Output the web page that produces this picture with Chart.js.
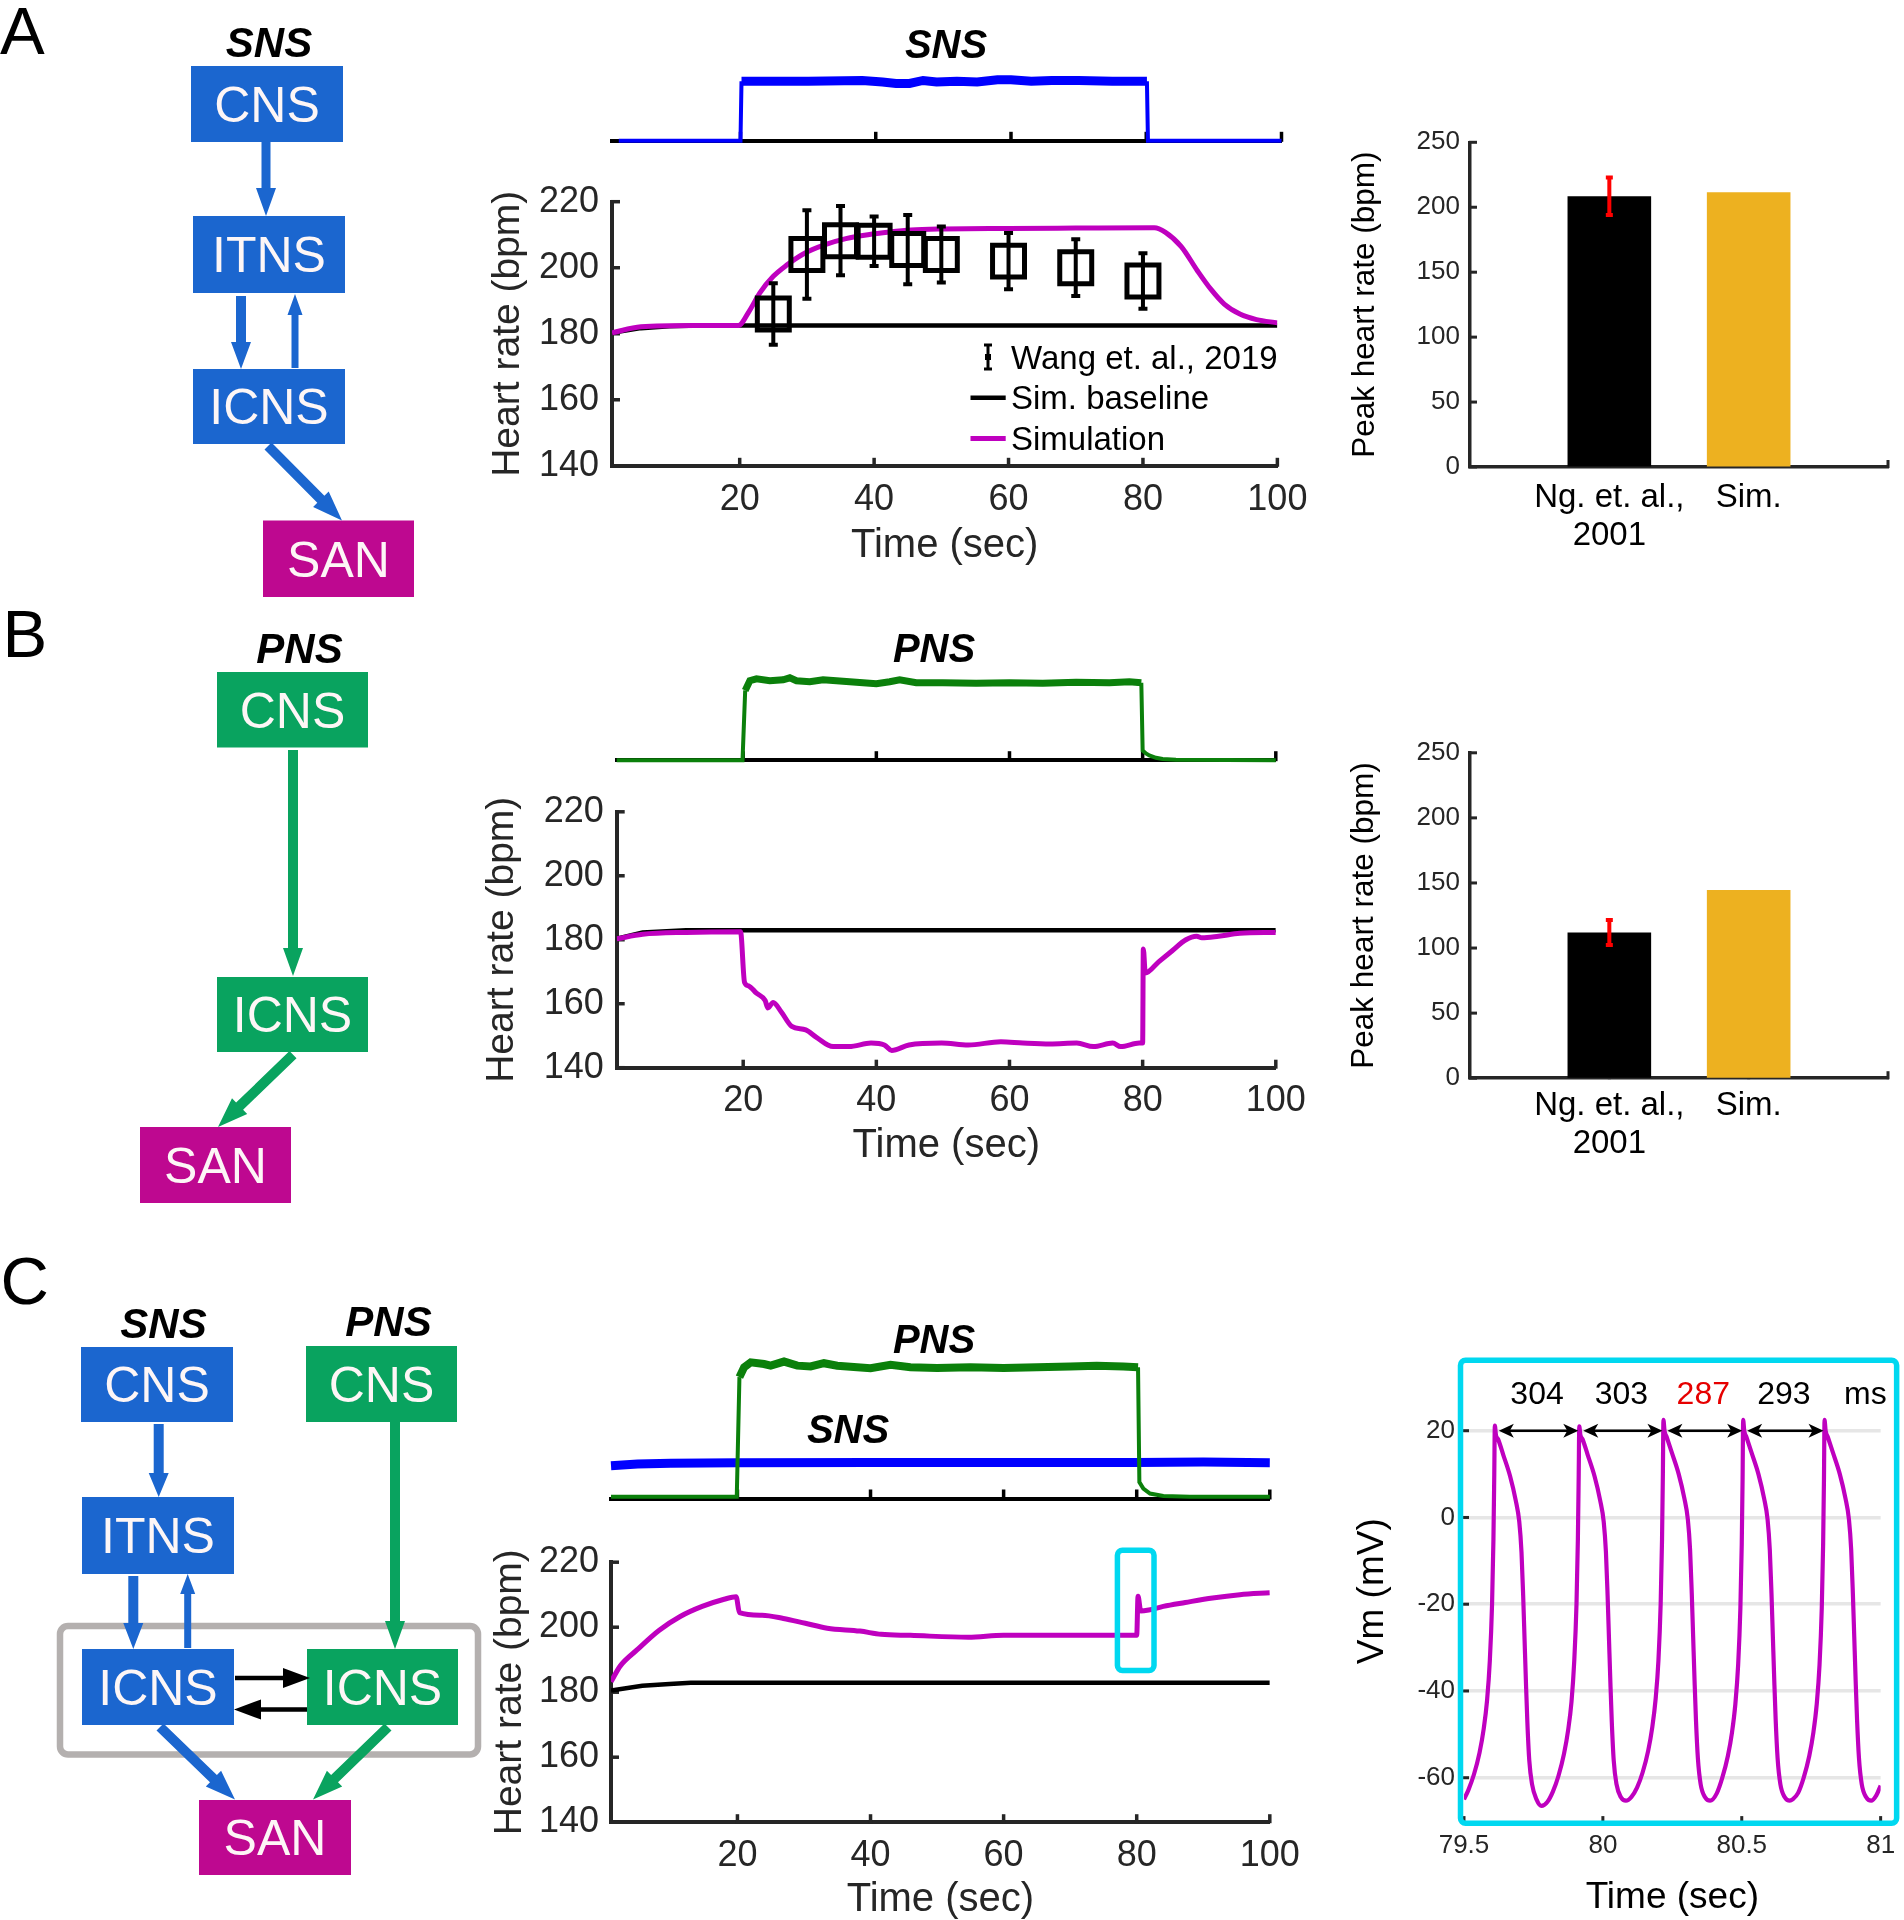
<!DOCTYPE html>
<html><head><meta charset="utf-8">
<script src="https://cdn.jsdelivr.net/npm/chart.js@4.4.1/dist/chart.umd.min.js"></script>
<style>
html,body{margin:0;padding:0;background:#fff;}
#page{position:relative;width:1904px;height:1920px;overflow:hidden;background:#fff;}
canvas{position:absolute;}
#ov{position:absolute;left:0;top:0;z-index:5;pointer-events:none;}
</style></head>
<body><div id="page">
<canvas id="aTop"></canvas><canvas id="aHr"></canvas><canvas id="aBar"></canvas>
<canvas id="bTop"></canvas><canvas id="bHr"></canvas><canvas id="bBar"></canvas>
<canvas id="cTop"></canvas><canvas id="cHr"></canvas><canvas id="cVm"></canvas>
<svg id="ov" width="1904" height="1920" xmlns="http://www.w3.org/2000/svg"></svg>
</div>
<script>
// ================= DATA =================
const hrXTicks = [20, 40, 60, 80, 100];
const hrYTicks = [140, 160, 180, 200, 220];
const barPos = [1, 2];
const barXTicks = [1, 2, 3];
const barLabels = [['Ng. et. al.,', '2001'], 'Sim.', ''];
const barYTicks = [0, 50, 100, 150, 200, 250];
const vmXTicks = [79.5, 80, 80.5, 81];
const vmYTicks = [-60, -40, -20, 0, 20];

// Panel A
const aSnsX = [2, 20, 20.15, 30, 38, 41, 43, 45, 47, 49, 52, 55, 58, 60, 63, 66, 70, 75, 80.1, 80.25, 100];
const aSnsY = [0, 0, 0.80, 0.80, 0.81, 0.79, 0.77, 0.77, 0.81, 0.79, 0.80, 0.79, 0.82, 0.82, 0.80, 0.81, 0.81, 0.80, 0.80, 0, 0];
const aSimX = [1, 5.3, 13.3, 19.8, 21.4, 23.0, 25.0, 27.0, 29.4, 32.6, 35.8, 39.1, 42.3, 45.5, 49.5, 60, 70, 81.7, 83.3, 85.7, 88.1, 90.1, 92.1, 94.5, 96.9, 100];
const aSimY = [180.3, 182.1, 182.5, 182.5, 186.8, 192.4, 197.4, 200.8, 204.1, 206.9, 208.8, 210.0, 210.8, 211.4, 211.7, 211.9, 212.0, 212.1, 210.8, 206.4, 199.1, 193.5, 189.0, 185.9, 184.3, 183.3];
const aBaseX = [1, 5.3, 9.5, 14, 100];
const aBaseY = [180.3, 181.7, 182.3, 182.5, 182.5];
const wangX = [25, 30, 35, 40, 45, 50, 60, 70, 80];
const wangY = [186.0, 204.0, 208.2, 208.0, 205.5, 204.0, 202.0, 200.0, 196.0];
const wangErr = [9.3, 13.4, 10.5, 7.5, 10.5, 8.5, 8.5, 8.6, 8.4];
const aBarVals = [208.5, 211.6];
const aBarErr = [14.4, 0];

// Panel B
const bPnsX = [1, 19.9, 20.3, 21, 22, 24, 26, 27, 28, 30, 32, 34, 36, 38, 40, 42, 43.5, 46, 50, 55, 60, 65, 70, 75, 78, 79.8, 80.0, 80.5, 81, 82, 83, 85, 100];
const bPnsY = [0, 0, 0.72, 0.82, 0.84, 0.82, 0.83, 0.85, 0.82, 0.81, 0.83, 0.82, 0.81, 0.80, 0.79, 0.81, 0.83, 0.80, 0.80, 0.795, 0.80, 0.795, 0.805, 0.80, 0.81, 0.80, 0.10, 0.07, 0.05, 0.025, 0.012, 0.005, 0];
const bSimX = [1, 4.9, 11.4, 19.6, 20.2, 20.8, 22.0, 23.3, 23.7, 24.5, 25.7, 27.3, 29.4, 31.0, 33.5, 35.9, 39.2, 41.2, 42.3, 44.9, 49.8, 53.8, 58.7, 62.0, 66.1, 70.1, 72.6, 75.5, 76.7, 79.5, 80.0, 80.1, 80.4, 82.4, 84.4, 86.5, 88.1, 88.9, 91.4, 94.6, 100];
const bSimY = [180.3, 181.7, 182.3, 182.5, 166.7, 165.6, 163.3, 161.0, 158.7, 160.4, 157.5, 152.9, 151.8, 149.5, 146.6, 146.6, 147.7, 147.1, 145.4, 147.1, 147.7, 147.1, 148.1, 147.7, 147.4, 147.7, 146.6, 147.7, 146.6, 147.7, 147.7, 177.1, 169.6, 173.1, 176.5, 180.0, 181.1, 180.6, 181.1, 182.0, 182.3];
const bBaseX = [1, 4.9, 11.4, 100];
const bBaseY = [180.3, 182.3, 183.0, 183.0];
const bBarVals = [112.0, 144.6];
const bBarErr = [9.6, 0];

// Panel C
const cPnsX = [1, 19.9, 20.3, 21, 22, 24, 25, 27, 29, 31, 33, 35, 38, 40, 43, 46, 50, 55, 60, 65, 70, 74, 78, 80.2, 80.4, 81, 82, 84, 88, 100];
const cPnsY = [0.01, 0.01, 0.74, 0.80, 0.83, 0.82, 0.81, 0.835, 0.81, 0.805, 0.825, 0.81, 0.80, 0.795, 0.815, 0.80, 0.795, 0.80, 0.795, 0.80, 0.805, 0.81, 0.805, 0.80, 0.10, 0.06, 0.03, 0.015, 0.01, 0.01];
const cSnsX = [1, 5, 10, 20, 40, 60, 80, 90, 100];
const cSnsY = [0.20, 0.21, 0.215, 0.218, 0.22, 0.22, 0.22, 0.222, 0.218];
const cSimX = [1, 2.4, 4.9, 8.2, 11.4, 14.7, 18, 19.8, 20.3, 23.7, 26.9, 30.2, 33.5, 38.4, 41.6, 46, 54.7, 60, 70, 80.0, 80.2, 80.6, 81.8, 84, 87.3, 91.4, 95.5, 100];
const cSimY = [183.2, 188.1, 193.0, 199.0, 203.3, 206.4, 208.6, 209.4, 204.5, 203.7, 202.7, 201.2, 199.7, 198.8, 197.8, 197.5, 196.9, 197.5, 197.5, 197.5, 209.5, 205.0, 205.3, 206.4, 207.6, 209.0, 210.0, 210.6];
const cBaseX = [1, 5.7, 9.8, 13, 100];
const cBaseY = [180.5, 182.0, 182.5, 182.9, 182.9];
const cBoxX = [77.1, 82.6];
const cBoxY = [186.7, 223.7];

// Membrane potential (Vm) zoom
const vmT = [
79.500, 79.516, 79.536, 79.556, 79.571, 79.583, 79.593, 79.601, 79.606, 79.609, 79.611,
79.615, 79.623, 79.641, 79.666, 79.686, 79.699, 79.707, 79.713, 79.718, 79.723, 79.728, 79.735, 79.745, 79.761, 79.779,
79.800, 79.820, 79.840, 79.860, 79.875, 79.887, 79.897, 79.905, 79.910, 79.913, 79.915,
79.919, 79.927, 79.945, 79.970, 79.990, 80.003, 80.011, 80.017, 80.022, 80.027, 80.032, 80.039, 80.049, 80.065, 80.083,
80.103, 80.123, 80.143, 80.163, 80.178, 80.190, 80.200, 80.208, 80.213, 80.216, 80.218,
80.222, 80.230, 80.248, 80.273, 80.293, 80.306, 80.314, 80.320, 80.325, 80.330, 80.335, 80.342, 80.352, 80.368, 80.386,
80.410, 80.430, 80.450, 80.465, 80.477, 80.487, 80.495, 80.500, 80.503, 80.505,
80.509, 80.517, 80.535, 80.560, 80.580, 80.593, 80.601, 80.607, 80.612, 80.617, 80.622, 80.629, 80.639, 80.655, 80.673,
80.683, 80.703, 80.723, 80.743, 80.758, 80.770, 80.780, 80.788, 80.793, 80.796, 80.798,
80.802, 80.810, 80.828, 80.853, 80.873, 80.886, 80.894, 80.900, 80.905, 80.910, 80.915, 80.922, 80.932, 80.948, 80.966, 80.985, 81.000];
const vmV = [
-65.0, -62.8, -59.2, -54.2, -48.7, -42.2, -33.0, -20.0, -5.0, 10.0, 21.2,
19.0, 18.0, 14.5, 9.5, 4.0, -1.0, -8.0, -18.0, -28.0, -38.0, -47.0, -56.0, -61.5, -65.0, -66.5,
-65.6, -63.2, -59.6, -54.5, -49.0, -42.5, -33.0, -20.0, -5.0, 10.0, 21.0,
19.0, 18.0, 14.5, 9.5, 4.0, -1.0, -8.0, -18.0, -28.0, -38.0, -47.0, -56.0, -61.5, -64.5, -65.3,
-64.4, -62.3, -58.8, -53.8, -48.3, -41.8, -33.0, -20.0, -5.0, 10.0, 22.5,
20.0, 18.5, 15.0, 10.0, 4.5, -0.5, -7.5, -17.5, -27.5, -37.5, -46.5, -55.5, -61.5, -64.5, -65.3,
-63.6, -60.0, -55.0, -49.5, -43.0, -34.0, -21.0, -6.0, 9.0, 22.5,
20.0, 18.5, 15.0, 10.0, 4.5, -0.5, -7.5, -17.5, -27.5, -37.5, -46.5, -55.5, -61.5, -64.5, -65.3,
-65.0, -63.5, -60.0, -55.0, -49.5, -43.0, -34.0, -21.0, -6.0, 9.0, 22.5,
20.0, 18.5, 15.0, 10.0, 4.5, -0.5, -7.5, -17.5, -27.5, -37.5, -46.5, -55.5, -61.5, -64.5, -65.3, -64.0, -61.8];
const vmPeaks = [79.611, 79.915, 80.218, 80.505, 80.798];
const vmIntervalLabels = ['304', '303', '287', '293'];
const vmIntervalColors = ['#000000', '#000000', '#e60000', '#000000'];

// ================= STYLE / LAYOUT =================
const FONT = "'Liberation Sans', Arial, Helvetica, sans-serif";
const AX = '#262626', MAG = '#bf00bf', BLUE = '#0000ff', GREEN = '#0b800b', CYAN = '#00d8f0';
Chart.defaults.font.family = FONT;
Chart.defaults.color = AX;
Chart.defaults.animation = false;
Chart.defaults.events = [];
Chart.defaults.plugins.legend.display = false;
Chart.defaults.plugins.tooltip.enabled = false;
Chart.defaults.elements.point.radius = 0;
Chart.defaults.elements.point.hoverRadius = 0;

const G = {
  aTop: { cl: 470, ct: 0, cw: 850, ch: 160, L: 612, R: 1281.5, T: 66.3, B: 140.8 },
  aHr:  { cl: 470, ct: 160, cw: 850, ch: 420, L: 612, R: 1281.5, T: 201.7, B: 465.8 },
  aBar: { cl: 1330, ct: 100, cw: 574, ch: 480, L: 1470, R: 1888, T: 142.3, B: 467 },
  bTop: { cl: 470, ct: 590, cw: 850, ch: 180, L: 616.7, R: 1275.8, T: 663.3, B: 760.2 },
  bHr:  { cl: 470, ct: 770, cw: 850, ch: 410, L: 616.7, R: 1275.8, T: 811.8, B: 1067.7 },
  bBar: { cl: 1330, ct: 700, cw: 574, ch: 480, L: 1470, R: 1888, T: 752.8, B: 1078.2 },
  cTop: { cl: 470, ct: 1300, cw: 850, ch: 210, L: 611, R: 1269.8, T: 1334.5, B: 1498.5 },
  cHr:  { cl: 470, ct: 1510, cw: 850, ch: 410, L: 611, R: 1269.8, T: 1562.2, B: 1822.2 },
  cVm:  { cl: 1330, ct: 1300, cw: 574, ch: 620, L: 1464, R: 1886, T: 1361.3, B: 1821.1 }
};

const pts = (xs, ys) => xs.map((x, i) => ({ x: x, y: ys[i] }));

function mount(id, g) {
  const c = document.getElementById(id);
  c.style.left = g.cl + 'px'; c.style.top = g.ct + 'px';
  c.width = g.cw; c.height = g.ch;
  c.style.width = g.cw + 'px'; c.style.height = g.ch + 'px';
  return c;
}
function pad(g, yVisible) {
  return { left: yVisible ? 0 : g.L - g.cl, top: g.T - g.ct, right: g.cl + g.cw - g.R, bottom: 0 };
}
function axis(o) {
  const isX = o.isX;
  return {
    type: 'linear', min: o.min, max: o.max, bounds: 'data', offset: false,
    afterBuildTicks: s => { s.ticks = o.ticks.map(v => ({ value: v })); },
    afterFit: s => { if (isX) s.height = o.size; else s.width = o.size; },
    grid: { display: true, drawOnChartArea: !!o.grid, drawTicks: false, color: o.grid || 'rgba(0,0,0,0)', lineWidth: o.gridWidth || 1 },
    border: { display: !!o.border, color: o.border || AX, width: o.borderWidth || 4 },
    ticks: { display: o.tickFont !== undefined, font: { size: o.tickFont || 12, lineHeight: o.tickLH || 1.2 }, padding: o.tickPad || 0,
             color: o.tickColor || AX, maxRotation: 0, minRotation: 0, autoSkip: false, callback: o.labelCb || (v => String(v)) },
    title: o.title ? { display: true, text: o.title, color: o.titleColor || AX, font: { size: o.titleFont, lineHeight: 1 },
             padding: isX ? { top: 0, bottom: o.titlePad } : { top: o.titlePad, bottom: 0 } } : { display: false }
  };
}

// ----- plugins -----
function makeTicks(o) {
  return { id: 'inTicks', beforeDatasetsDraw(chart) {
    const ctx = chart.ctx, a = chart.chartArea;
    ctx.save(); ctx.strokeStyle = o.color; ctx.lineWidth = o.width;
    if (o.x) { const s = chart.scales.x; s.ticks.forEach(t => { const p = s.getPixelForValue(t.value);
      ctx.beginPath(); ctx.moveTo(p, a.bottom + 1); ctx.lineTo(p, a.bottom - o.len); ctx.stroke(); }); }
    if (o.y) { const s = chart.scales.y; s.ticks.forEach(t => { const p = s.getPixelForValue(t.value);
      ctx.beginPath(); ctx.moveTo(a.left - 1, p); ctx.lineTo(a.left + o.len, p); ctx.stroke(); }); }
    ctx.restore();
  } };
}
const errBars = { id: 'errBars', afterDatasetsDraw(chart) {
  const ctx = chart.ctx, xs = chart.scales.x, ys = chart.scales.y;
  chart.data.datasets.forEach(ds => {
    if (!ds.errors) return;
    ctx.save(); ctx.strokeStyle = ds.errColor; ctx.lineWidth = ds.errWidth;
    ds.data.forEach((pt, i) => {
      const e = ds.errors[i]; if (!e) return;
      const px = xs.getPixelForValue(pt.x), lo = ys.getPixelForValue(pt.y - e), hi = ys.getPixelForValue(pt.y + e), c = ds.errCap / 2;
      ctx.beginPath(); ctx.moveTo(px, lo); ctx.lineTo(px, hi);
      ctx.moveTo(px - c, lo); ctx.lineTo(px + c, lo); ctx.moveTo(px - c, hi); ctx.lineTo(px + c, hi); ctx.stroke();
    });
    ctx.restore();
  });
} };
function makeBox(bx, by, color, width, radius) {
  return { id: 'dataBox', afterDatasetsDraw(chart) {
    const xs = chart.scales.x, ys = chart.scales.y, ctx = chart.ctx;
    const x1 = xs.getPixelForValue(bx[0]), x2 = xs.getPixelForValue(bx[1]);
    const y1 = ys.getPixelForValue(by[1]), y2 = ys.getPixelForValue(by[0]);
    ctx.save(); ctx.strokeStyle = color; ctx.lineWidth = width;
    ctx.beginPath(); ctx.roundRect(x1, y1, x2 - x1, y2 - y1, radius); ctx.stroke(); ctx.restore();
  } };
}
function makeFrame(color, width, dl, dt, dr, db) {
  return { id: 'frame', afterDraw(chart) {
    const a = chart.chartArea, ctx = chart.ctx;
    ctx.save(); ctx.strokeStyle = color; ctx.lineWidth = width;
    const x1 = a.left + dl, y1 = a.top + dt, x2 = a.right + dr, y2 = a.bottom + db;
    ctx.beginPath(); ctx.roundRect(x1, y1, x2 - x1, y2 - y1, 5); ctx.stroke(); ctx.restore();
  } };
}
function makeIntervals(peaks, labels, colors, level, labelLevel, unitText, unitX) {
  return { id: 'intervals', afterDatasetsDraw(chart) {
    const ctx = chart.ctx, xs = chart.scales.x, ys = chart.scales.y;
    const py = ys.getPixelForValue(level), ly = ys.getPixelForValue(labelLevel);
    ctx.save(); ctx.lineWidth = 2.5;
    ctx.font = '32px ' + FONT; ctx.textAlign = 'center'; ctx.textBaseline = 'middle';
    for (let i = 0; i < labels.length; i++) {
      const x1 = xs.getPixelForValue(peaks[i]) + 4, x2 = xs.getPixelForValue(peaks[i + 1]) - 1;
      ctx.strokeStyle = '#000'; ctx.fillStyle = '#000';
      ctx.beginPath(); ctx.moveTo(x1 + 8, py); ctx.lineTo(x2 - 8, py); ctx.stroke();
      ctx.beginPath(); ctx.moveTo(x1, py); ctx.lineTo(x1 + 15, py - 7); ctx.lineTo(x1 + 11, py); ctx.lineTo(x1 + 15, py + 7); ctx.closePath(); ctx.fill();
      ctx.beginPath(); ctx.moveTo(x2, py); ctx.lineTo(x2 - 15, py - 7); ctx.lineTo(x2 - 11, py); ctx.lineTo(x2 - 15, py + 7); ctx.closePath(); ctx.fill();
      ctx.fillStyle = colors[i];
      ctx.fillText(labels[i], xs.getPixelForValue((peaks[i] + peaks[i + 1]) / 2), ly);
    }
    ctx.fillStyle = '#000';
    ctx.fillText(unitText, xs.getPixelForValue(unitX), ly);
    ctx.restore();
  } };
}

function traceDs(xs, ys, color, thin, thick) {
  return { data: pts(xs, ys), borderColor: color, borderWidth: thin, pointRadius: 0, clip: false,
    segment: { borderWidth: c => (c.p0.parsed.y > 0.5 && c.p1.parsed.y > 0.5) ? thick : thin } };
}
function traceChart(id, g, datasets) {
  return new Chart(mount(id, g), {
    type: 'line', data: { datasets },
    options: { responsive: false, layout: { padding: pad(g, false) },
      scales: {
        x: axis({ isX: true, min: 1, max: 100, ticks: hrXTicks, size: g.ct + g.ch - g.B, border: '#000', borderWidth: 4 }),
        y: { display: false, min: 0, max: 1 }
      } },
    plugins: [makeTicks({ x: true, len: 9, color: '#000', width: 3.5 })]
  });
}
function hrChart(id, g, datasets, t, extra) {
  return new Chart(mount(id, g), {
    type: 'line', data: { datasets },
    options: { responsive: false, layout: { padding: pad(g, true) },
      scales: {
        x: axis({ isX: true, min: 1, max: 100, ticks: hrXTicks, size: g.ct + g.ch - g.B, border: AX, borderWidth: 4,
                  tickFont: 36, tickPad: t.xTickPad, title: 'Time (sec)', titleFont: 40, titlePad: t.xTitlePad }),
        y: axis({ isX: false, min: 140, max: 220, ticks: hrYTicks, size: g.L - g.cl, border: AX, borderWidth: 4,
                  tickFont: 36, tickPad: t.yTickPad, title: 'Heart rate (bpm)', titleFont: 39, titlePad: t.yTitlePad })
      } },
    plugins: [makeTicks({ x: true, y: true, len: 8, color: AX, width: 3.5 }), errBars].concat(extra || [])
  });
}
function barTickText(v) { const i = barXTicks.indexOf(v); return i >= 0 ? barLabels[i] : ''; }
function barChart(id, g, vals, errs, t) {
  return new Chart(mount(id, g), {
    type: 'bar',
    data: { datasets: [{ data: pts(barPos, vals), backgroundColor: ['#000000', '#EDB120'], borderWidth: 0,
      barPercentage: 0.6, categoryPercentage: 1, errors: errs, errColor: '#ff0000', errWidth: 4, errCap: 7 }] },
    options: { responsive: false, layout: { padding: pad(g, true) },
      scales: {
        x: axis({ isX: true, min: 0, max: 3, ticks: barXTicks, size: g.ct + g.ch - g.B, border: AX, borderWidth: 3.5,
                  tickFont: 33, tickLH: 1.15, tickColor: '#000', tickPad: t.xTickPad, labelCb: barTickText }),
        y: axis({ isX: false, min: 0, max: 250, ticks: barYTicks, size: g.L - g.cl, border: AX, borderWidth: 3.5,
                  tickFont: 26, tickPad: 10, title: 'Peak heart rate (bpm)', titleFont: 31.5, titlePad: t.yTitlePad, titleColor: '#000' })
      } },
    plugins: [makeTicks({ x: true, y: true, len: 7, color: AX, width: 3 }), errBars]
  });
}

// ================= CHARTS =================
// Panel A
traceChart('aTop', G.aTop, [traceDs(aSnsX, aSnsY, BLUE, 4, 9)]);
hrChart('aHr', G.aHr, [
  { data: pts(wangX, wangY), showLine: false, pointStyle: 'rect', pointRadius: 22.6, pointHoverRadius: 22.6, pointBorderWidth: 5,
    pointBorderColor: '#000', pointBackgroundColor: 'rgba(0,0,0,0)', errors: wangErr, errColor: '#000', errWidth: 4, errCap: 9 },
  { data: pts(aSimX, aSimY), borderColor: MAG, borderWidth: 5, cubicInterpolationMode: 'monotone' },
  { data: pts(aBaseX, aBaseY), borderColor: '#000', borderWidth: 4.5 }
], { xTickPad: 12.6, yTickPad: 13, yTitlePad: 18.5, xTitlePad: 14.5 });
barChart('aBar', G.aBar, aBarVals, aBarErr, { xTickPad: 12, yTitlePad: 19.25 });

// Panel B
traceChart('bTop', G.bTop, [traceDs(bPnsX, bPnsY, GREEN, 4, 7)]);
hrChart('bHr', G.bHr, [
  { data: pts(bSimX, bSimY), borderColor: MAG, borderWidth: 5, cubicInterpolationMode: 'monotone' },
  { data: pts(bBaseX, bBaseY), borderColor: '#000', borderWidth: 4.5 }
], { xTickPad: 11.7, yTickPad: 13, yTitlePad: 12.5, xTitlePad: 14 });
barChart('bBar', G.bBar, bBarVals, bBarErr, { xTickPad: 9, yTitlePad: 19 });

// Panel C
traceChart('cTop', G.cTop, [traceDs(cPnsX, cPnsY, GREEN, 4, 8), traceDs(cSnsX, cSnsY, BLUE, 9, 9)]);
hrChart('cHr', G.cHr, [
  { data: pts(cSimX, cSimY), borderColor: MAG, borderWidth: 5, cubicInterpolationMode: 'monotone' },
  { data: pts(cBaseX, cBaseY), borderColor: '#000', borderWidth: 4.5 }
], { xTickPad: 12.2, yTickPad: 12, yTitlePad: 20.5, xTitlePad: 0 }, [makeBox(cBoxX, cBoxY, CYAN, 5.5, 5)]);

(function () {
  const g = G.cVm;
  new Chart(mount('cVm', g), {
    type: 'line',
    data: { datasets: [{ data: pts(vmT, vmV), borderColor: MAG, borderWidth: 4.2, cubicInterpolationMode: 'monotone' }] },
    options: { responsive: false, layout: { padding: pad(g, true) },
      scales: {
        x: axis({ isX: true, min: 79.5, max: 81, ticks: vmXTicks, size: g.ct + g.ch - g.B, tickFont: 26, tickPad: 8.9,
                  title: 'Time (sec)', titleFont: 37, titlePad: 3.7, titleColor: '#000' }),
        y: axis({ isX: false, min: -70, max: 36, ticks: vmYTicks, size: g.L - g.cl, tickFont: 26, tickPad: 9,
                  grid: '#e6e6e6', gridWidth: 3.5, title: 'Vm (mV)', titleFont: 37, titlePad: 23.9, titleColor: '#000' })
      } },
    plugins: [makeTicks({ x: true, y: true, len: 5, color: AX, width: 3 }),
              makeIntervals(vmPeaks, vmIntervalLabels, vmIntervalColors, 20, 28.1, 'ms', 80.945),
              makeFrame(CYAN, 5.5, -3.5, -1, 16, 2.2)]
  });
})();

// ================= DIAGRAMS / TEXT OVERLAY =================
const BOXB = '#1b66cf', BOXG = '#09a35f', BOXM = '#be0890';
const parts = [];
const SF = "'Liberation Sans', Arial, Helvetica, sans-serif";
function sText(x, y, str, size, o) {
  o = o || {};
  parts.push('<text x="' + x + '" y="' + y + '" font-family="' + SF + '" font-size="' + size + '"' +
    (o.bold ? ' font-weight="bold"' : '') + (o.italic ? ' font-style="italic"' : '') +
    ' text-anchor="' + (o.anchor || 'start') + '" fill="' + (o.fill || '#000') + '">' + str + '</text>');
}
function sBox(x1, y1, x2, y2, fill, label) {
  parts.push('<rect x="' + x1 + '" y="' + y1 + '" width="' + (x2 - x1) + '" height="' + (y2 - y1) + '" fill="' + fill + '"/>');
  sText((x1 + x2) / 2, ((y1 + y2) / 2 + 17.9).toFixed(1), label, 50, { anchor: 'middle', fill: '#fdf6f6' });
}
function sArrow(x1, y1, x2, y2, color, sw, hw, hl) {
  const dx = x2 - x1, dy = y2 - y1, L = Math.hypot(dx, dy), ux = dx / L, uy = dy / L, nx = -uy, ny = ux;
  const bx = x2 - ux * hl, by = y2 - uy * hl;
  const p = [[x1 + nx * sw / 2, y1 + ny * sw / 2], [bx + nx * sw / 2, by + ny * sw / 2], [bx + nx * hw / 2, by + ny * hw / 2], [x2, y2],
             [bx - nx * hw / 2, by - ny * hw / 2], [bx - nx * sw / 2, by - ny * sw / 2], [x1 - nx * sw / 2, y1 - ny * sw / 2]];
  parts.push('<polygon fill="' + color + '" points="' + p.map(q => q[0].toFixed(1) + ',' + q[1].toFixed(1)).join(' ') + '"/>');
}

// panel letters
sText(0, 53.6, 'A', 67);
sText(2.5, 657, 'B', 67);
sText(0.5, 1304, 'C', 67);

// Panel A diagram
sText(269, 57.4, 'SNS', 42, { bold: true, italic: true, anchor: 'middle' });
sBox(191, 66, 343, 142, BOXB, 'CNS');
sBox(193, 216, 345, 293, BOXB, 'ITNS');
sBox(193, 369, 345, 444, BOXB, 'ICNS');
sBox(263, 520.5, 414, 597, BOXM, 'SAN');
sArrow(266, 142, 266, 216, BOXB, 9, 20, 28);
sArrow(241, 296, 241, 369, BOXB, 10, 20, 27);
sArrow(295, 368, 295, 294, BOXB, 7, 15, 21);
sArrow(268, 446, 342, 520.5, BOXB, 10, 22, 30);

// Panel B diagram
sText(299.5, 663, 'PNS', 42, { bold: true, italic: true, anchor: 'middle' });
sBox(217, 672, 368, 747.5, BOXG, 'CNS');
sBox(217, 977, 368, 1052, BOXG, 'ICNS');
sBox(140, 1127, 291, 1203, BOXM, 'SAN');
sArrow(293, 750, 293, 976, BOXG, 10, 20, 28);
sArrow(293, 1054.7, 218, 1127, BOXG, 10, 22, 30);

// Panel C diagram
parts.push('<rect x="60" y="1626" width="418" height="128.5" rx="8" ry="8" fill="none" stroke="#b4b0af" stroke-width="6.5"/>');
sText(163.5, 1338, 'SNS', 42, { bold: true, italic: true, anchor: 'middle' });
sText(388.5, 1336, 'PNS', 42, { bold: true, italic: true, anchor: 'middle' });
sBox(81, 1347, 233, 1422, BOXB, 'CNS');
sBox(306, 1346, 457, 1422, BOXG, 'CNS');
sBox(82, 1497, 234, 1574, BOXB, 'ITNS');
sBox(82, 1649, 234, 1725, BOXB, 'ICNS');
sBox(307, 1649, 458, 1725, BOXG, 'ICNS');
sBox(199, 1800, 351, 1875, BOXM, 'SAN');
sArrow(158.7, 1424, 158.7, 1497, BOXB, 10, 20, 24);
sArrow(133.3, 1576, 133.3, 1649, BOXB, 10, 20, 26);
sArrow(187.7, 1648, 187.7, 1574, BOXB, 7, 15, 20);
sArrow(395, 1422, 395, 1649, BOXG, 10, 20, 28);
sArrow(235, 1678, 310, 1678, '#000', 4.5, 20, 27);
sArrow(307, 1709.5, 234, 1709.5, '#000', 4.5, 20, 27);
sArrow(160, 1727, 235, 1799.6, BOXB, 10, 22, 30);
sArrow(388, 1727, 313, 1799.6, BOXG, 10, 22, 30);

// trace titles
sText(946, 57.6, 'SNS', 40, { bold: true, italic: true, anchor: 'middle' });
sText(934, 661.7, 'PNS', 40, { bold: true, italic: true, anchor: 'middle' });
sText(934, 1353.3, 'PNS', 40, { bold: true, italic: true, anchor: 'middle' });
sText(848, 1442.7, 'SNS', 40, { bold: true, italic: true, anchor: 'middle' });

// legend for panel A heart-rate chart
parts.push('<g stroke="#000" stroke-width="3"><line x1="988" y1="345" x2="988" y2="369"/><line x1="984" y1="345" x2="992" y2="345"/><line x1="984" y1="369" x2="992" y2="369"/></g>');
parts.push('<rect x="985" y="354" width="6" height="6" fill="#000"/>');
parts.push('<line x1="970.5" y1="397.7" x2="1005.7" y2="397.7" stroke="#000" stroke-width="4.5"/>');
parts.push('<line x1="970.5" y1="438.4" x2="1005.7" y2="438.4" stroke="' + MAG + '" stroke-width="5"/>');
sText(1011, 368.5, 'Wang et. al., 2019', 33);
sText(1011, 409.2, 'Sim. baseline', 33);
sText(1011, 449.9, 'Simulation', 33);

document.getElementById('ov').innerHTML = parts.join('');
</script></body></html>
